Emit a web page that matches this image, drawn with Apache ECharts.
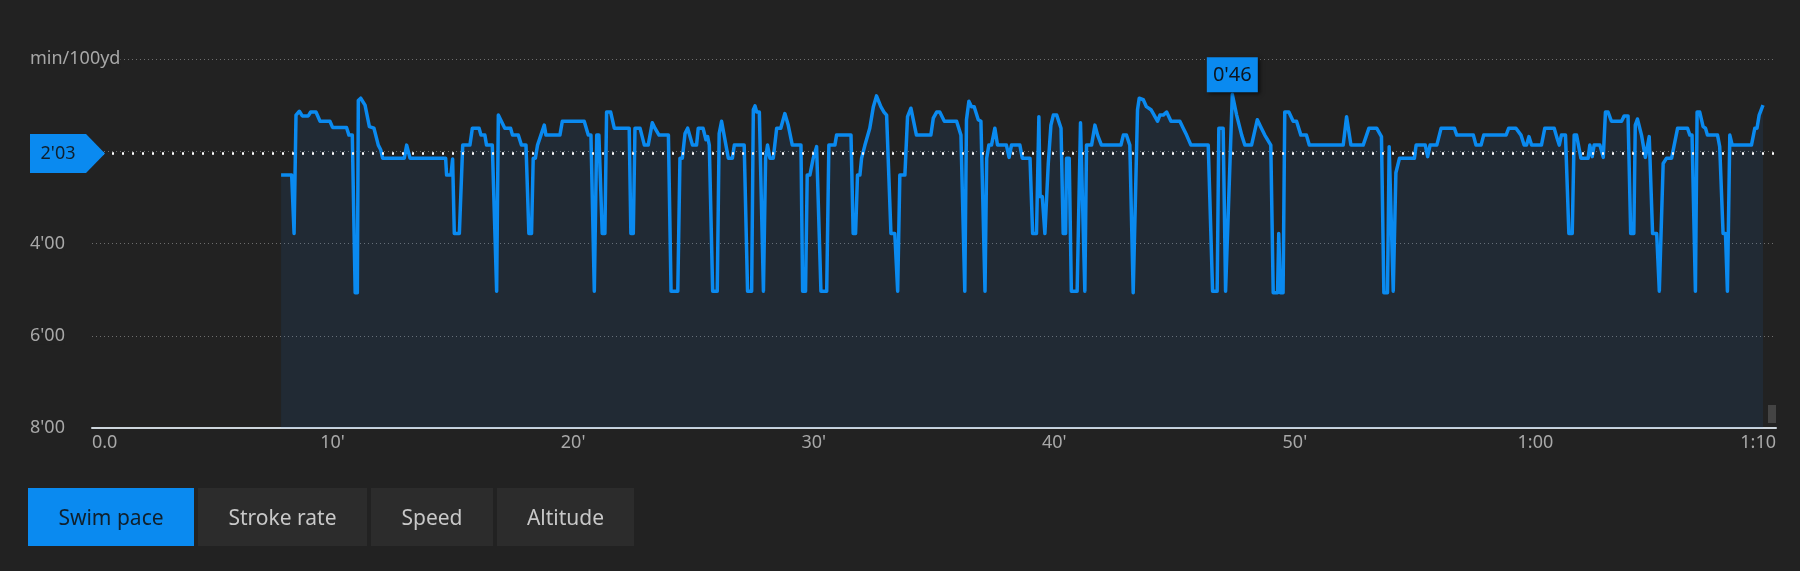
<!DOCTYPE html>
<html>
<head>
<meta charset="utf-8">
<script src="https://cdn.jsdelivr.net/npm/echarts@6/dist/echarts.min.js"></script>
<style>
  html, body { margin: 0; padding: 0; background: #222222; }
  #wrap { position: relative; width: 1800px; height: 571px; background: #222222; font-family: 'Noto Sans', sans-serif; }
  #chart { position: absolute; left: 0; top: 0; width: 1800px; height: 571px; }
  #buttons { position: absolute; left: 28px; top: 488px; height: 58px; display: flex; gap: 4px; }
  .btn { height: 58px; line-height: 58px; text-align: center; background: #2c2c2c; color: #c8c8c8; font-size: 21px; }
  .btn.active { background: #0a8af0; color: #10202c; }
</style>
</head>
<body>
<div id="wrap">
  <div id="chart"></div>
  <div id="buttons"></div>
</div>
<script>
// Elapsed time (minutes)
const times = [
  7.86, 8.30, 8.40, 8.48, 8.62, 8.74, 8.99, 9.09, 9.31, 9.48, 9.89, 10.00, 10.58, 10.68, 10.82, 10.94, 11.03, 11.07, 11.17, 11.35,
  11.53, 11.72, 11.90, 12.00, 12.08, 12.98, 13.08, 13.16, 13.22, 14.70, 14.74, 14.92, 14.99, 15.06, 15.27, 15.41, 15.71, 15.81, 16.09, 16.17,
  16.33, 16.40, 16.64, 16.82, 16.89, 16.96, 17.16, 17.40, 17.48, 17.72, 17.85, 18.04, 18.16, 18.27, 18.34, 18.43, 18.52, 18.66, 18.80, 18.87,
  19.45, 19.55, 20.46, 20.63, 20.74, 20.88, 20.98, 21.07, 21.21, 21.32, 21.39, 21.56, 21.71, 22.33, 22.40, 22.50, 22.57, 22.78, 22.96, 23.12,
  23.29, 23.40, 23.57, 23.96, 24.07, 24.35, 24.44, 24.54, 24.65, 24.76, 24.96, 25.13, 25.20, 25.40, 25.52, 25.59, 25.66, 25.80, 25.99, 26.07,
  26.17, 26.45, 26.62, 26.70, 27.11, 27.25, 27.42, 27.49, 27.56, 27.63, 27.74, 27.91, 28.00, 28.08, 28.18, 28.32, 28.46, 28.63, 28.80, 28.94,
  29.11, 29.47, 29.54, 29.66, 29.73, 29.84, 29.98, 30.12, 30.30, 30.54, 30.63, 30.88, 30.95, 31.55, 31.64, 31.74, 31.82, 31.92, 31.99, 32.13,
  32.33, 32.48, 32.61, 32.79, 32.92, 33.03, 33.21, 33.37, 33.49, 33.58, 33.79, 33.90, 34.04, 34.27, 34.87, 34.97, 35.11, 35.24, 35.43, 35.94,
  36.12, 36.28, 36.35, 36.45, 36.56, 36.67, 36.84, 36.95, 37.12, 37.19, 37.28, 37.39, 37.53, 37.64, 38.01, 38.12, 38.22, 38.57, 38.67, 38.99,
  39.10, 39.26, 39.36, 39.41, 39.50, 39.61, 39.75, 39.86, 39.96, 40.10, 40.28, 40.37, 40.47, 40.51, 40.62, 40.71, 40.95, 41.09, 41.27, 41.34,
  41.55, 41.69, 41.80, 41.87, 41.96, 42.77, 42.87, 43.00, 43.14, 43.28, 43.46, 43.53, 43.70, 43.83, 44.02, 44.15, 44.29, 44.39, 44.53, 44.67,
  44.85, 45.22, 45.36, 45.50, 45.68, 46.40, 46.58, 46.77, 46.84, 47.02, 47.12, 47.20, 47.40, 47.58, 47.79, 47.92, 48.20, 48.44, 48.61, 48.75,
  49.00, 49.10, 49.28, 49.33, 49.40, 49.51, 49.58, 49.75, 49.93, 50.07, 50.25, 50.48, 50.60, 52.01, 52.15, 52.33, 52.84, 53.08, 53.40, 53.60,
  53.70, 53.85, 53.92, 54.09, 54.20, 54.35, 54.97, 55.04, 55.42, 55.52, 55.62, 55.90, 56.08, 56.63, 56.73, 57.42, 57.53, 57.74, 57.85, 58.78,
  58.89, 59.19, 59.40, 59.53, 59.63, 59.73, 59.84, 60.25, 60.39, 60.78, 60.88, 60.99, 61.08, 61.25, 61.39, 61.53, 61.61, 61.71, 61.89, 62.19,
  62.26, 62.36, 62.44, 62.68, 62.82, 62.91, 63.02, 63.16, 63.58, 63.69, 63.85, 63.96, 64.09, 64.15, 64.24, 64.41, 64.57, 64.73, 64.87, 65.04,
  65.15, 65.31, 65.45, 65.66, 65.91, 66.32, 66.42, 66.51, 66.65, 66.72, 66.83, 66.97, 67.07, 67.15, 67.57, 67.66, 67.80, 67.90, 67.98, 68.08,
  68.18, 68.98, 69.12, 69.21, 69.30, 69.46
];
// Swim pace (seconds per 100 yd)
const pace = [
  151, 151, 227, 73, 68, 74, 74, 69, 69, 81, 81, 89, 89, 99, 99, 304, 304, 54, 51, 60,
  88, 90, 112, 118, 129, 129, 112, 112, 129, 129, 151, 151, 130, 227, 227, 112, 112, 90, 90, 99,
  99, 112, 112, 302, 73, 74, 90, 90, 99, 99, 112, 112, 227, 227, 129, 129, 112, 99, 86, 99,
  99, 81, 81, 99, 99, 302, 99, 99, 227, 227, 69, 69, 90, 90, 227, 227, 90, 90, 112, 112,
  83, 90, 99, 99, 302, 302, 129, 129, 97, 90, 112, 112, 90, 90, 105, 101, 112, 302, 302, 97,
  81, 129, 129, 112, 112, 302, 302, 66, 61, 69, 69, 302, 129, 112, 129, 129, 90, 90, 71, 86,
  112, 112, 302, 302, 151, 151, 129, 114, 302, 302, 112, 112, 99, 99, 227, 227, 151, 151, 129, 112,
  90, 62, 48, 62, 69, 73, 227, 227, 302, 151, 151, 75, 64, 99, 99, 77, 69, 69, 81, 81,
  99, 302, 79, 55, 62, 62, 79, 81, 302, 129, 112, 112, 90, 112, 112, 128, 112, 112, 129, 129,
  227, 227, 75, 179, 179, 227, 136, 86, 73, 73, 90, 227, 227, 129, 129, 302, 302, 83, 302, 112,
  112, 86, 99, 99, 112, 112, 99, 99, 112, 304, 66, 51, 53, 62, 66, 73, 81, 73, 73, 69,
  81, 81, 90, 99, 112, 112, 302, 302, 90, 90, 302, 302, 46, 73, 99, 112, 112, 79, 90, 99,
  112, 304, 304, 227, 304, 304, 69, 69, 81, 81, 99, 99, 112, 112, 75, 112, 112, 90, 90, 101,
  304, 304, 114, 302, 148, 129, 129, 112, 112, 127, 112, 112, 90, 90, 99, 99, 112, 112, 99, 99,
  90, 90, 99, 112, 112, 101, 112, 112, 90, 90, 101, 112, 99, 99, 227, 227, 99, 99, 129, 129,
  112, 127, 112, 112, 128, 69, 69, 81, 81, 74, 74, 227, 227, 86, 78, 99, 128, 101, 227, 227,
  302, 136, 129, 129, 90, 90, 99, 99, 302, 69, 69, 88, 90, 99, 99, 114, 227, 227, 302, 99,
  112, 112, 90, 90, 73, 60
];
const AVG_PACE = 123;           // 2'03
const X_TICKS = [0, 10, 20, 30, 40, 50, 60, 70];
const Y_TICKS = [0, 120, 240, 360, 480];
const Y_NAME = 'min/100yd';
const BUTTONS = ['Swim pace', 'Stroke rate', 'Speed', 'Altitude'];
const BUTTON_WIDTHS = [166, 169, 122, 137];

const BLUE = '#0a8af0';
const pad = n => (n < 10 ? '0' : '') + n;
const fmtPace = s => Math.floor(s / 60) + "'" + pad(Math.round(s % 60));
const fmtTime = v => v === 0 ? '0.0' : (v >= 60 ? Math.floor(v / 60) + ':' + pad(v % 60) : v + "'");

const btnWrap = document.getElementById('buttons');
BUTTONS.forEach((b, i) => {
  const d = document.createElement('div');
  d.className = 'btn' + (i === 0 ? ' active' : '');
  d.style.width = BUTTON_WIDTHS[i] + 'px';
  d.textContent = b;
  btnWrap.appendChild(d);
});

const chart = echarts.init(document.getElementById('chart'), null, { renderer: 'canvas' });
const data = times.map((t, i) => [t, pace[i]]);
const yCommon = { type: 'value', min: Y_TICKS[0], max: Y_TICKS[Y_TICKS.length - 1], interval: 120, inverse: true };

chart.setOption({
  animation: false,
  backgroundColor: '#222222',
  textStyle: { fontFamily: 'Noto Sans' },
  grid: { left: 92, right: 24, top: 59, bottom: 143 },
  xAxis: {
    type: 'value', min: X_TICKS[0], max: X_TICKS[X_TICKS.length - 1], interval: 10,
    axisLine: { show: true, onZero: false, lineStyle: { color: '#cdd5dc', width: 2 } },
    axisTick: { show: false },
    splitLine: { show: false },
    axisLabel: { color: '#a8a8a8', fontSize: 18, margin: 6, formatter: fmtTime,
      alignMinLabel: 'left', alignMaxLabel: 'right' }
  },
  yAxis: [
    Object.assign({}, yCommon, {
      z: 0,
      axisLine: { show: false }, axisTick: { show: false }, axisLabel: { show: false },
      splitLine: { show: true, lineStyle: { color: '#6e6e6e', type: [1, 3], width: 1 } }
    }),
    Object.assign({}, yCommon, {
      z: 5, position: 'left', offset: 0,
      axisLine: { show: false }, axisTick: { show: false }, splitLine: { show: false },
      axisLabel: {
        color: '#a8a8a8', fontSize: 18, align: 'left', margin: 62, backgroundColor: '#222222',
        formatter: v => v === 0 ? Y_NAME : (v === 120 ? '' : fmtPace(v))
      }
    })
  ],
  graphic: [{ type: 'rect', right: 24, top: 405, shape: { width: 8, height: 18 }, style: { fill: '#444444' } }],
  series: [{
    type: 'line',
    data: data,
    yAxisIndex: 0,
    showSymbol: false,
    lineStyle: { color: BLUE, width: 3.5, join: 'round' },
    areaStyle: { origin: 'end', color: 'rgba(20,130,240,0.12)' },
    markLine: {
      silent: true, symbol: 'none',
      label: { show: false },
      lineStyle: { color: '#ffffff', type: [2, 8], width: 2.5 },
      data: [{ yAxis: AVG_PACE }]
    },
    markPoint: {
      silent: true,
      data: [
        {
          coord: [X_TICKS[0], AVG_PACE], value: AVG_PACE,
          symbol: 'path://M0 0L56 0L75 19.5L56 39L0 39Z', symbolKeepAspect: false,
          symbolSize: [75, 39], symbolOffset: [-24.5, 0],
          itemStyle: { color: BLUE },
          label: { show: true, position: 'inside', offset: [-9.5, 0], color: '#10202c', fontSize: 18,
            formatter: p => fmtPace(p.value) }
        },
        {
          type: 'min', valueDim: 'y',
          symbol: 'rect', symbolSize: [51, 35], symbolOffset: [0, -19.5],
          itemStyle: { color: BLUE, shadowBlur: 4, shadowColor: 'rgba(0,0,0,0.6)', shadowOffsetX: 2, shadowOffsetY: 2 },
          label: { show: true, position: 'inside', color: '#0d1620', fontSize: 20,
            formatter: p => fmtPace(p.value) }
        }
      ]
    }
  }]
});
</script>
</body>
</html>
